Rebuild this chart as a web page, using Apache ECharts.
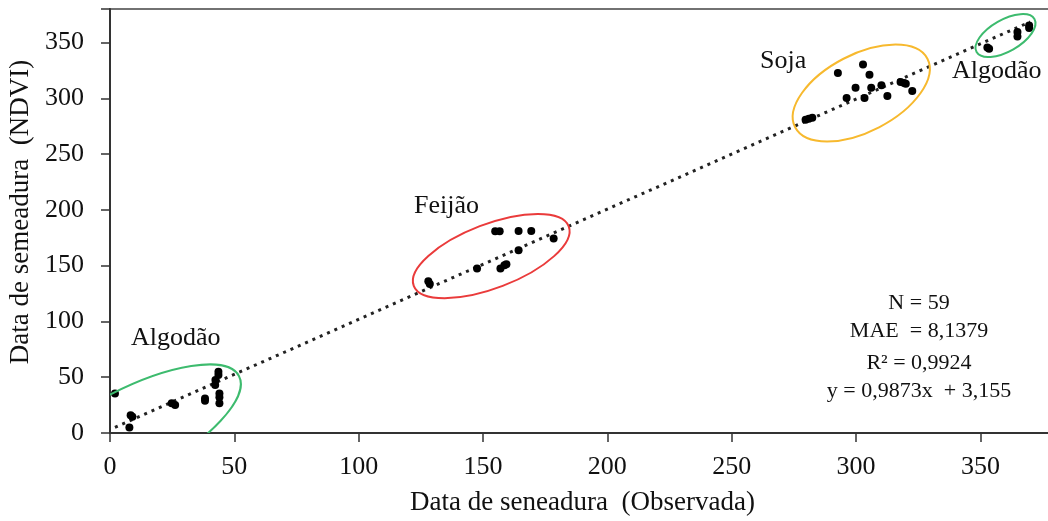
<!DOCTYPE html>
<html>
<head>
<meta charset="utf-8">
<script src="https://cdn.jsdelivr.net/npm/echarts@6/dist/echarts.min.js"></script>
<style>
html, body { margin: 0; padding: 0; background: #fff; }
#chart { width: 1048px; height: 521px; }
</style>
</head>
<body>
<div id="chart"></div>
<script>
// pontos observados x estimados (dias)
const algodaoBaixo = [
    [2, 35.5], [8.3, 16], [9, 14.5], [7.8, 5], [24.8, 26.6], [26.2, 25],
    [38.2, 31], [38.2, 29], [43.6, 55], [43.6, 52], [42.4, 47.4], [42.3, 43],
    [44, 35.5], [44, 32], [44, 26.6]
];
const feijao = [
    [128, 136], [128.6, 133.5], [147.6, 147.4], [154.9, 180.8], [156.7, 180.8],
    [164.3, 181], [169.4, 181], [178.4, 174.3], [164.3, 163.8], [157, 147.4],
    [158.6, 150.4], [159.4, 151.3]
];
const soja = [
    [292.7, 322.6], [302.8, 330.3], [305.4, 321.1], [299.8, 309.5], [296.2, 300.2],
    [303.4, 300.2], [306.1, 309.5], [310.2, 311.6], [312.6, 302], [317.9, 314.5],
    [319.3, 313.6], [320, 313], [322.6, 306.5], [279.7, 280.8], [281, 281.7], [282.4, 282.6]
];
const algodaoAlto = [
    [353.5, 344.4], [352.8, 345.5], [364.9, 359.3], [364.9, 355.4], [369.6, 365.3], [369.6, 363]
];
const slope = 0.9873;
const intercept = 3.155;
const trendX = [2, 370];
const xTicks = [0, 50, 100, 150, 200, 250, 300, 350];
const yTicks = [0, 50, 100, 150, 200, 250, 300, 350];
const stats = ['N = 59', 'MAE  = 8,1379', 'R² = 0,9924', 'y = 0,9873x  + 3,155'];

// elipses de destaque (centro em dados, raios em px, rotacao em graus)
const ellipses = [
    { c: [6.4, -2.7], rx: 128, ry: 44, rot: 28, color: '#3dbb6e' },
    { c: [153.3, 158.6], rx: 83, ry: 32, rot: 21, color: '#ea3b3b' },
    { c: [302.1, 304.7], rx: 74.5, ry: 38.6, rot: 27.4, color: '#f7b92e' },
    { c: [360.1, 356.2], rx: 33.3, ry: 15.8, rot: 29.7, color: '#3dbb6e' }
];

const font = 'Liberation Serif, Times New Roman, serif';
const allPoints = algodaoBaixo.concat(feijao, soja, algodaoAlto);
const trend = trendX.map(x => [x, slope * x + intercept]);

const chart = echarts.init(document.getElementById('chart'));
chart.setOption({
    animation: false,
    grid: {
        left: 110, top: 9, right: -7, bottom: 88,
        outerBoundsMode: 'none',
        show: true, borderColor: '#444', borderWidth: 1.5
    },
    xAxis: {
        type: 'value', min: 0, max: 380, interval: 50,
        name: 'Data de seneadura  (Observada)',
        nameLocation: 'middle', nameGap: 56,
        nameTextStyle: { fontFamily: font, fontSize: 27, color: '#111' },
        axisLine: { lineStyle: { color: '#333', width: 2 } },
        axisTick: { show: true, length: 9, lineStyle: { color: '#333', width: 1.5 } },
        axisLabel: {
            fontFamily: font, fontSize: 26, color: '#111', margin: 21,
            formatter: v => xTicks.indexOf(v) >= 0 ? String(v) : ''
        },
        splitLine: { show: false }
    },
    yAxis: {
        type: 'value', min: 0, max: 380, interval: 50,
        name: 'Data de semeadura  (NDVI)',
        nameLocation: 'middle', nameGap: 76,
        nameTextStyle: { fontFamily: font, fontSize: 27, color: '#111', padding: [0, 0, 0, 18] },
        axisLine: { show: true, lineStyle: { color: '#333', width: 2 } },
        axisTick: { show: true, length: 9, lineStyle: { color: '#333', width: 1.5 } },
        axisLabel: {
            fontFamily: font, fontSize: 26, color: '#111', margin: 26,
            formatter: v => yTicks.indexOf(v) >= 0 ? String(v) : ''
        },
        splitLine: { show: false }
    },
    series: [
        {
            type: 'line',
            data: trend,
            symbol: 'none',
            lineStyle: { color: '#222', width: 3, type: [3, 5] },
            z: 2
        },
        {
            type: 'scatter',
            data: allPoints,
            symbolSize: 8,
            itemStyle: { color: '#000', opacity: 1 },
            z: 3
        },
        {
            type: 'custom',
            clip: true,
            data: ellipses.map(e => e.c),
            renderItem: function (params, api) {
                const e = ellipses[params.dataIndex];
                const p = api.coord([api.value(0), api.value(1)]);
                return {
                    type: 'ellipse',
                    x: p[0], y: p[1],
                    rotation: e.rot * Math.PI / 180,
                    shape: { cx: 0, cy: 0, rx: e.rx, ry: e.ry },
                    style: { fill: null, stroke: e.color, lineWidth: 2 }
                };
            },
            z: 4
        }
    ],
    graphic: [
        { type: 'text', left: 131, top: 325, style: { text: 'Algodão', font: '26px ' + font, fill: '#111' } },
        { type: 'text', left: 414, top: 193, style: { text: 'Feijão', font: '26px ' + font, fill: '#111' } },
        { type: 'text', left: 760, top: 48, style: { text: 'Soja', font: '26px ' + font, fill: '#111' } },
        { type: 'text', left: 952, top: 58, style: { text: 'Algodão', font: '26px ' + font, fill: '#111' } }
    ].concat(stats.map((s, i) => ({
        type: 'text',
        x: 919, y: [303, 331, 363, 391][i],
        style: { text: s, font: '22px ' + font, fill: '#111', align: 'center', verticalAlign: 'middle' }
    })))
});
</script>
</body>
</html>
